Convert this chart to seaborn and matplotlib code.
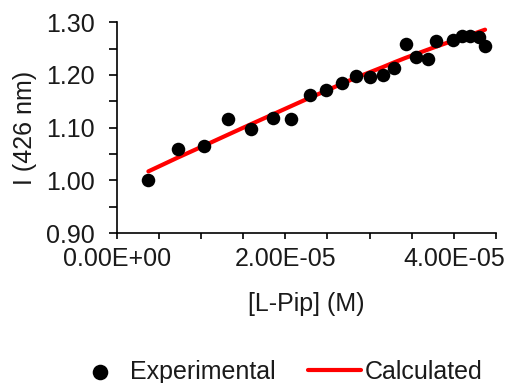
import matplotlib
matplotlib.use("Agg")
import matplotlib.pyplot as plt
import seaborn as sns
import pandas as pd
from matplotlib.ticker import MultipleLocator, FuncFormatter

# [L-Pip] concentrations (M) and measured intensity at 426 nm
conc = [0.376e-5, 0.722e-5, 1.039e-5, 1.325e-5, 1.599e-5, 1.849e-5, 2.071e-5,
        2.293e-5, 2.484e-5, 2.667e-5, 2.840e-5, 3.000e-5, 3.158e-5, 3.293e-5,
        3.436e-5, 3.555e-5, 3.690e-5, 3.793e-5, 3.990e-5, 4.095e-5, 4.190e-5,
        4.300e-5, 4.370e-5]
experimental = [1.000, 1.060, 1.066, 1.116, 1.098, 1.119, 1.116,
                1.162, 1.171, 1.185, 1.198, 1.197, 1.199, 1.213,
                1.259, 1.235, 1.231, 1.265, 1.266, 1.274, 1.274,
                1.273, 1.255]
calculated = [1.017, 1.043, 1.066, 1.087, 1.107, 1.125, 1.141,
              1.157, 1.170, 1.183, 1.195, 1.205, 1.215, 1.224,
              1.233, 1.240, 1.248, 1.254, 1.265, 1.271, 1.276,
              1.282, 1.286]

df = pd.DataFrame({"conc": conc, "Experimental": experimental, "Calculated": calculated})

sns.set_theme(style="ticks")
plt.rcParams["font.family"] = ["Liberation Sans", "DejaVu Sans"]
FS = 18

fig = plt.figure(figsize=(5.08, 3.83), dpi=100)
ax = fig.add_axes([0.2297, 0.3916, 0.9764 - 0.2297, 0.9418 - 0.3916])

sns.lineplot(data=df, x="conc", y="Calculated", ax=ax, color="#ff0000",
             linewidth=3.0, label="Calculated", zorder=2)
sns.scatterplot(data=df, x="conc", y="Experimental", ax=ax, color="black",
                s=95, edgecolor="black", linewidth=0, label="Experimental", zorder=3)

ax.set_xlim(0, 4.5e-5)
ax.set_ylim(0.90, 1.30)
ax.xaxis.set_major_locator(MultipleLocator(2e-5))
ax.xaxis.set_minor_locator(MultipleLocator(5e-6))
ax.yaxis.set_major_locator(MultipleLocator(0.1))
ax.yaxis.set_minor_locator(MultipleLocator(0.05))
ax.xaxis.set_major_formatter(FuncFormatter(lambda v, p: f"{v:.2E}"))
ax.yaxis.set_major_formatter(FuncFormatter(lambda v, p: f"{v:.2f}"))

for s in ["top", "right"]:
    ax.spines[s].set_visible(False)
for s in ["left", "bottom"]:
    ax.spines[s].set_color("black")
    ax.spines[s].set_linewidth(1.2)

ax.tick_params(axis="both", which="both", direction="out", color="black",
               width=1.2, labelsize=FS, labelcolor="#1a1a1a")
ax.tick_params(axis="y", which="both", length=6, pad=10)
ax.tick_params(axis="x", which="both", length=4, pad=6)

ax.set_xlabel("[L-Pip] (M)", fontsize=FS, color="#1a1a1a", labelpad=15)
ax.set_ylabel("I (426 nm)", fontsize=FS, color="#1a1a1a", labelpad=6)

handles, labels = ax.get_legend_handles_labels()
order = [labels.index("Experimental"), labels.index("Calculated")]
ax.legend([handles[i] for i in order], [labels[i] for i in order],
          loc="center", bbox_to_anchor=(278 / 508, 1 - 371.7 / 383),
          bbox_transform=fig.transFigure, markerscale=1.15,
          ncol=2, frameon=False, fontsize=FS, handlelength=2.1,
          handletextpad=0.16, columnspacing=1.3, labelcolor="#1a1a1a",
          borderpad=0, borderaxespad=0)

fig.savefig("out.png", dpi=100)
